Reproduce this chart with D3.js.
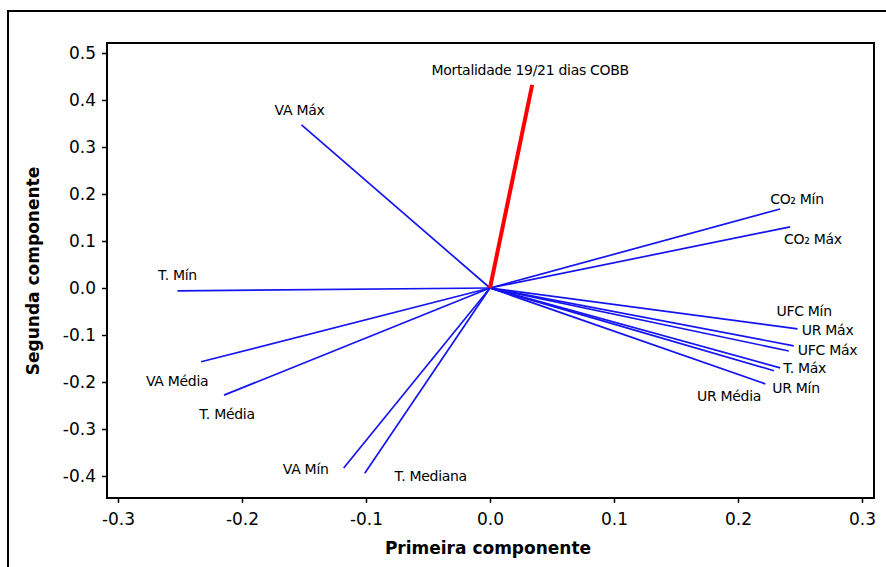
<!DOCTYPE html>
<html>
<head>
<meta charset="utf-8">
<script src="https://cdnjs.cloudflare.com/ajax/libs/d3/7.8.5/d3.min.js"></script>
<style>
  body { margin: 0; background: #fff; }
  text { font-family: "DejaVu Sans", Verdana, sans-serif; }
</style>
</head>
<body>
<svg width="886" height="567"></svg>
<script>
// Loadings (PC1, PC2)
var variables = ["Mortalidade 19/21 dias COBB", "VA Máx", "CO₂ Mín", "CO₂ Máx",
	"UFC Mín", "UR Máx", "UFC Máx", "T. Máx", "UR Média", "UR Mín",
	"T. Mín", "VA Média", "T. Média", "VA Mín", "T. Mediana"];
var pc1 = [0.034, -0.152, 0.234, 0.242, 0.248, 0.245, 0.241, 0.234, 0.229, 0.222,
	-0.252, -0.233, -0.2145, -0.118, -0.101];
var pc2 = [0.432, 0.347, 0.168, 0.130, -0.087, -0.123, -0.134, -0.170, -0.176, -0.204,
	-0.006, -0.157, -0.228, -0.383, -0.394];
var highlight = ["Mortalidade 19/21 dias COBB"];

var xTicks = [-0.3, -0.2, -0.1, 0.0, 0.1, 0.2, 0.3],
	yTicks = [0.5, 0.4, 0.3, 0.2, 0.1, 0.0, -0.1, -0.2, -0.3, -0.4];

// label offsets from the arrow tip (layout only)
var labelOffset = {
	"Mortalidade 19/21 dias COBB": [-2, -15, "middle"],
	"VA Máx": [-2, -15, "middle"],
	"CO₂ Mín": [-10, -10, "start"],
	"CO₂ Máx": [-6, 12, "start"],
	"UFC Mín": [-21, -18, "start"],
	"UR Máx": [8, -16, "start"],
	"UFC Máx": [9, -1, "start"],
	"T. Máx": [3, 0, "start"],
	"UR Média": [-77, 25, "start"],
	"UR Mín": [7, 4, "start"],
	"T. Mín": [0, -16, "middle"],
	"VA Média": [-24, 19, "middle"],
	"T. Média": [3, 19, "middle"],
	"VA Mín": [-38, 1, "middle"],
	"T. Mediana": [66, 3, "middle"]
};

var svg = d3.select("svg");

// outer frame (runs off the picture on the right and bottom)
svg.append("rect")
	.attr("x", 8).attr("y", 11)
	.attr("width", 900).attr("height", 600)
	.attr("fill", "none").attr("stroke", "#000").attr("stroke-width", 2);

var pLeft = 107, pRight = 874, pTop = 43, pBottom = 498;

var x = d3.scaleLinear().domain([-0.3, 0.3]).range([118, 862]);
var y = d3.scaleLinear().domain([0.0, 0.5]).range([288, 53]);

// plain hyphen for negatives, like the original
var fmt = function(d) { return d.toFixed(1); };

// axes
var xAxis = svg.append("g")
	.attr("transform", "translate(0," + pBottom + ")")
	.call(d3.axisBottom(x).tickValues(xTicks).tickSize(5).tickPadding(8).tickFormat(fmt));
var yAxis = svg.append("g")
	.attr("transform", "translate(" + pLeft + ",0)")
	.call(d3.axisLeft(y).tickValues(yTicks).tickSize(5).tickPadding(6).tickFormat(fmt));

[xAxis, yAxis].forEach(function(a) {
	a.select(".domain").remove();
	a.selectAll(".tick line").attr("stroke", "#000").attr("stroke-width", 1.5);
	a.selectAll(".tick text")
		.attr("fill", "#000")
		.style("font-size", "17px");
});
xAxis.selectAll(".tick text").attr("dy", "0.85em");

// plot frame
svg.append("rect")
	.attr("x", pLeft).attr("y", pTop)
	.attr("width", pRight - pLeft).attr("height", pBottom - pTop)
	.attr("fill", "none").attr("stroke", "#000").attr("stroke-width", 2);

// axis titles
svg.append("text")
	.attr("x", 488).attr("y", 554)
	.attr("text-anchor", "middle")
	.style("font-size", "17px").style("font-weight", "bold")
	.text("Primeira componente");
svg.append("text")
	.attr("transform", "translate(39,271) rotate(-90)")
	.attr("text-anchor", "middle")
	.style("font-size", "17px").style("font-weight", "bold")
	.text("Segunda componente");

var data = variables.map(function(v, i) {
	return { name: v, a: pc1[i], b: pc2[i] };
});

var g = svg.append("g");

// blue vectors first, red one on top
g.selectAll("line")
	.data(data.slice().sort(function(p, q) {
		return highlight.includes(p.name) - highlight.includes(q.name);
	}))
	.enter()
	.append("line")
	.attr("x1", x(0)).attr("y1", y(0))
	.attr("x2", function(d) { return x(d.a); })
	.attr("y2", function(d) { return y(d.b); })
	.attr("stroke", function(d) { return highlight.includes(d.name) ? "#ff0000" : "#1414f0"; })
	.attr("stroke-width", function(d) { return highlight.includes(d.name) ? 4 : 1.7; });

g.selectAll("text.lbl")
	.data(data)
	.enter()
	.append("text")
	.attr("class", "lbl")
	.attr("x", function(d) { return x(d.a) + labelOffset[d.name][0]; })
	.attr("y", function(d) { return y(d.b) + labelOffset[d.name][1]; })
	.attr("text-anchor", function(d) { return labelOffset[d.name][2]; })
	.attr("dy", "0.35em")
	.style("font-size", "14px")
	.style("letter-spacing", "-0.3px")
	.text(function(d) { return d.name; });
</script>
</body>
</html>
